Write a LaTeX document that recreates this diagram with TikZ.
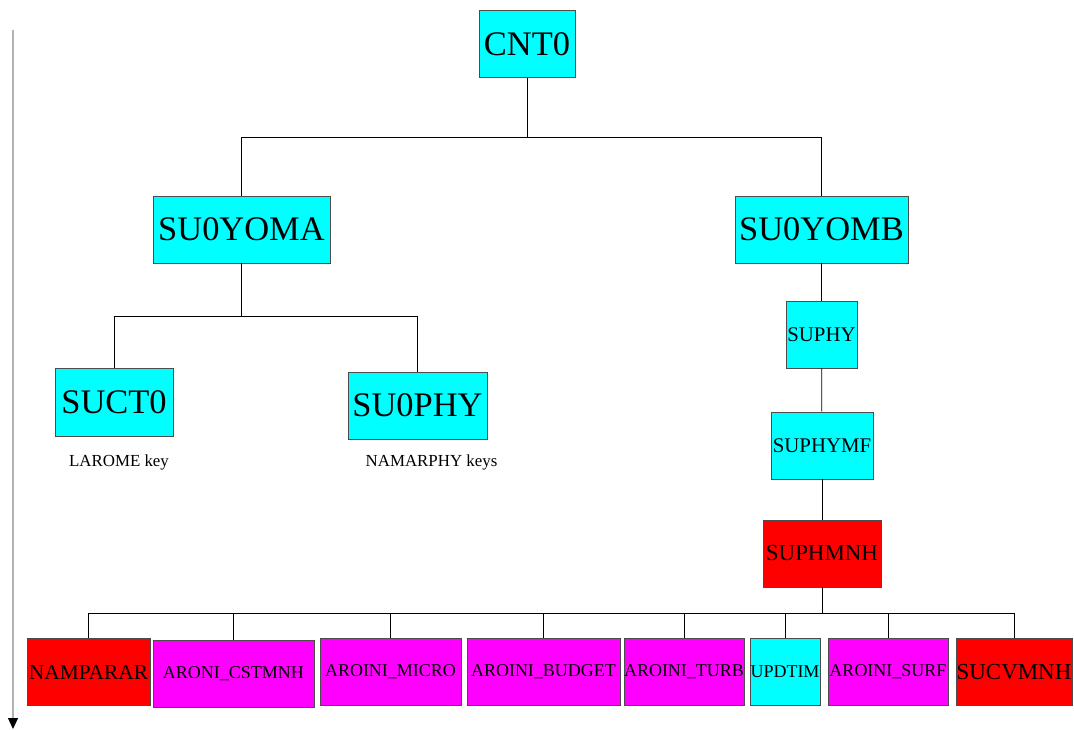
\documentclass[tikz,border=0pt]{standalone}
\usepackage{fontspec}
\setmainfont{Liberation Serif}
\usetikzlibrary{arrows.meta}
\usetikzlibrary{positioning}
\definecolor{boxcyan}{RGB}{0,255,255}
\definecolor{boxmag}{RGB}{255,0,255}
\definecolor{boxred}{RGB}{255,0,0}

\begin{document}
\begin{tikzpicture}[x=0.025cm, y=-0.025cm,
routine/.style={draw=black!70, line width=0.6pt, inner sep=0pt, minimum height=67*0.025cm},
rcyan/.style={fill=boxcyan, routine},
rred/.style={fill=boxred, routine},
rmag/.style={fill=boxmag, routine},
big/.style={font=\fontsize{24.5}{26}\selectfont},
mid/.style={font=\fontsize{14.8}{16}\selectfont},
small/.style={font=\fontsize{12.8}{14}\selectfont},
note/.style={font=\fontsize{12}{14}\selectfont, inner sep=0pt},
link/.style={draw=black, line width=0.5pt}]
\def\u{0.025cm}
\useasboundingbox (0,0) rectangle (1074,730);

% time axis
\coordinate (axtop) at (13,30);
\coordinate (axbot) at (13,729);
\draw[black!30, line width=0.8pt, -{Triangle[black, width=10*\u, length=11*\u]}] (axtop) -- (axbot);

% top levels
\node[rcyan, big, minimum width=96*\u] (CNT0) at (527,44) {CNT0};
\node[rcyan, big, minimum width=177*\u] (SU0YOMA) at (241.5,229.5) {SU0YOMA};
\node[rcyan, big, minimum width=173*\u] (SU0YOMB) at (821.5,229.5) {SU0YOMB};
\node[rcyan, big, minimum width=118*\u, minimum height=68*\u] (SUCT0) at (114,402) {SUCT0};
\node[rcyan, big, minimum width=139*\u] (SU0PHY) at (417.5,405.5) {SU0PHY};
\node[note] (LAROMEkey) [below=18*\u of SUCT0, xshift=5*\u] {LAROME key};
\node[note] (NAMARPHYkeys) [below=15*\u of SU0PHY, xshift=14*\u] {NAMARPHY keys};

% physics chain
\node[rcyan, mid, minimum width=71*\u] (SUPHY) at (821.5,334.5) {SUPHY};
\node[rcyan, mid, minimum width=102*\u] (SUPHYMF) at (822,445.5) {SUPHYMF};
\node[rred, font=\fontsize{16.3}{18}\selectfont, minimum width=118*\u] (SUPHMNH) at (822,553.5) {SUPHMNH};

% bottom row
\node[rred, font=\fontsize{15.2}{17}\selectfont, minimum width=123*\u] (NAMPARAR) at (88.5,672) {NAMPARAR};
\node[rmag, small, minimum width=161*\u] (ARONICSTMNH) at (233.5,674) {ARONI\_CSTMNH};
\node[rmag, small, minimum width=141*\u] (AROINIMICRO) at (390.5,671.5) {AROINI\_MICRO};
\node[rmag, small, minimum width=153*\u] (AROINIBUDGET) at (543.5,672) {AROINI\_BUDGET};
\node[rmag, small, minimum width=120*\u] (AROINITURB) at (684,672) {AROINI\_TURB};
\node[rcyan, small, minimum width=70*\u] (UPDTIM) at (785,672) {UPDTIM};
\node[rmag, small, minimum width=120*\u] (AROINISURF) at (888,672) {AROINI\_SURF};
\node[rred, font=\fontsize{16.3}{18}\selectfont, minimum width=116*\u] (SUCVMNH) at (1014,672) {SUCVMNH};

% buses
\coordinate (busA) at (527,137);
\coordinate (busB) at (241.5,316);
\coordinate (busC) at (822,613);

\draw[link] (CNT0) -- (busA);
\draw[link] (busA) -| (SU0YOMA);
\draw[link] (busA) -| (SU0YOMB);

\draw[link] (SU0YOMA) -- (busB);
\draw[link] (busB) -| (SUCT0);
\draw[link] (busB) -| (SU0PHY);

\draw[link] (SU0YOMB) -- (SUPHY);
\draw[link] (SUPHY) -- (SUPHYMF);
\draw[link] (SUPHYMF) -- (SUPHMNH);
\draw[link] (SUPHMNH) -- (busC);

\foreach \r in {NAMPARAR,ARONICSTMNH,AROINIMICRO,AROINIBUDGET,AROINITURB,UPDTIM,AROINISURF,SUCVMNH}
  \draw[link] (busC) -| (\r);
\end{tikzpicture}
\end{document}
